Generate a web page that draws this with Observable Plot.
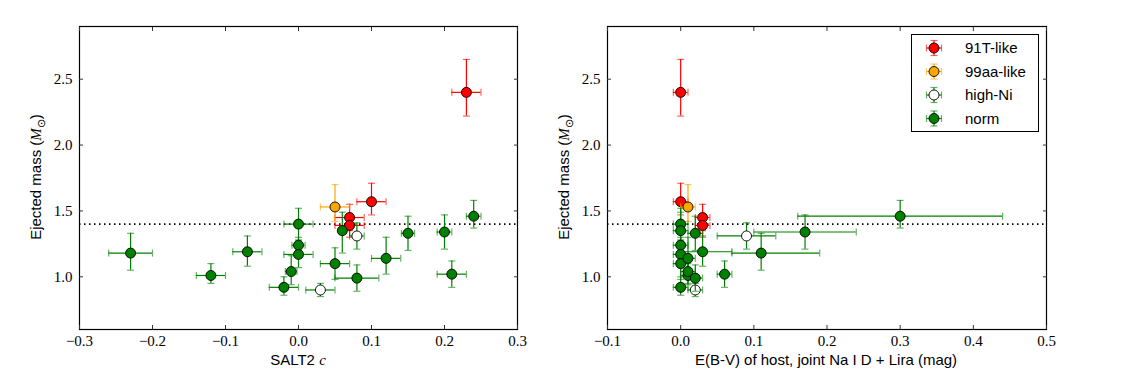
<!DOCTYPE html>
<html><head><meta charset="utf-8">
<script src="https://cdn.jsdelivr.net/npm/d3@7"></script>
<script src="https://cdn.jsdelivr.net/npm/@observablehq/plot@0.6"></script>
<style>
body{margin:0;background:#fff;}
#wrap{position:relative;width:1125px;height:375px;font-family:"Liberation Sans",Arial,sans-serif;color:#000;}
.panel{position:absolute;top:0;}
.panel svg text{font-family:"Liberation Serif","Times New Roman",serif;}
.xt{position:absolute;top:351px;font-size:15px;transform:translateX(-50%);white-space:nowrap;}
.yt{position:absolute;font-size:15px;white-space:nowrap;transform:translate(-50%,-50%) rotate(-90deg);}
.m{font-family:"Liberation Serif",serif;}
#legend{position:absolute;left:911px;top:34px;width:126px;height:96px;border:1px solid #000;background:#fff;}
</style></head>
<body>
<div id="wrap">
  <div id="left" class="panel" style="left:0"></div>
  <div id="right" class="panel" style="left:540px"></div>
  <div class="yt" style="left:37px;top:177px">Ejected mass (<span class="m"><i>M</i><sub style="font-size:11px">⊙</sub></span>)</div>
  <div class="yt" style="left:565px;top:177px">Ejected mass (<span class="m"><i>M</i><sub style="font-size:11px">⊙</sub></span>)</div>
  <div class="xt" style="left:298px">SALT2 <span class="m"><i>c</i></span></div>
  <div class="xt" style="left:826px">E(B-V) of host, joint Na I D + Lira (mag)</div>
  <div id="legend"></div>
</div>
<script>
// ---- data ----
const groupNames = ["91T-like", "99aa-like", "high-Ni", "norm"];
const groupFill  = ["#ff0000", "#ffa500", "#ffffff", "#008000"];
const groupBar   = ["#ff0000", "#ffa500", "#008000", "#008000"];

const group = ["norm","norm","norm","norm","norm","norm","norm","norm","high-Ni","norm",
               "99aa-like","norm","91T-like","91T-like","high-Ni","norm","91T-like","norm","norm","norm",
               "norm","norm","91T-like"];
const mass      = [1.18,1.01,1.19,0.92,1.04,1.40,1.24,1.17,0.90,1.10,1.53,1.35,1.45,1.39,1.31,0.99,1.57,1.14,1.33,1.34,1.02,1.46,2.40];
const massErrLo = [0.13,0.06,0.11,0.06,0.10,0.12,0.06,0.10,0.05,0.12,0.11,0.17,0.10,0.09,0.10,0.10,0.10,0.12,0.13,0.13,0.10,0.09,0.18];
const massErrHi = [0.15,0.09,0.12,0.08,0.12,0.12,0.06,0.10,0.05,0.12,0.17,0.14,0.10,0.09,0.10,0.10,0.14,0.16,0.13,0.13,0.10,0.12,0.25];
const salt2c    = [-0.23,-0.12,-0.07,-0.02,-0.01,0.00,0.00,0.00,0.03,0.05,0.05,0.06,0.07,0.07,0.08,0.08,0.10,0.12,0.15,0.20,0.21,0.24,0.23];
const salt2cErr = [0.03,0.02,0.02,0.02,0.008,0.02,0.009,0.02,0.02,0.02,0.02,0.005,0.02,0.02,0.01,0.03,0.02,0.02,0.009,0.01,0.02,0.01,0.02];
const ebv       = [0.11,0.01,0.03,0.00,0.01,0.00,0.00,0.00,0.02,0.00,0.01,0.00,0.03,0.03,0.09,0.02,0.00,0.01,0.02,0.17,0.06,0.30,0.00];
const ebvErrLo  = [0.04,0.01,0.03,0.01,0.01,0.01,0.01,0.01,0.01,0.01,0.01,0.01,0.01,0.01,0.04,0.01,0.01,0.01,0.01,0.07,0.01,0.14,0.01];
const ebvErrHi  = [0.08,0.01,0.04,0.01,0.01,0.01,0.01,0.01,0.01,0.01,0.01,0.01,0.01,0.01,0.04,0.01,0.01,0.01,0.01,0.07,0.01,0.14,0.01];
const massLimit = [1.4];

const ticksC   = [-0.3,-0.2,-0.1,0.0,0.1,0.2,0.3];
const ticksEBV = [-0.1,0.0,0.1,0.2,0.3,0.4,0.5];
const ticksM   = [1.0,1.5,2.0,2.5];

const data = group.map((g, i) => ({
  g, m: mass[i], mLo: massErrLo[i], mHi: massErrHi[i],
  c: salt2c[i], cLo: salt2cErr[i], cHi: salt2cErr[i],
  e: ebv[i], eLo: ebvErrLo[i], eHi: ebvErrHi[i]
}));

const vcap = {draw(ctx){ ctx.moveTo(0,-3.5); ctx.lineTo(0,3.5); }};
const hcap = {draw(ctx){ ctx.moveTo(-3.5,0); ctx.lineTo(3.5,0); }};
const fmt = d3.format(".1f");
const serif = "'Liberation Serif', 'Times New Roman', serif";

function panel(key, loKey, hiKey, domain, ticks, width, ml, mr) {
  const marks = [
    Plot.ruleY(massLimit, {stroke: "black", strokeWidth: 1.6, strokeDasharray: "1.5,3.5"})
  ];
  groupNames.forEach((g, gi) => {
    const d = data.filter(p => p.g === g);
    const col = groupBar[gi];
    const lo = p => p[key] - p[loKey], hi = p => p[key] + p[hiKey];
    marks.push(
      Plot.ruleY(d, {y: "m", x1: lo, x2: hi, stroke: col, strokeWidth: 1.2}),
      Plot.ruleX(d, {x: key, y1: p => p.m - p.mLo, y2: p => p.m + p.mHi, stroke: col, strokeWidth: 1.2}),
      Plot.dot(d, {x: lo, y: "m", symbol: vcap, fill: "none", stroke: col, strokeOpacity: 0.6, strokeWidth: 1.2}),
      Plot.dot(d, {x: hi, y: "m", symbol: vcap, fill: "none", stroke: col, strokeOpacity: 0.6, strokeWidth: 1.2}),
      Plot.dot(d, {x: key, y: p => p.m - p.mLo, symbol: hcap, fill: "none", stroke: col, strokeOpacity: 0.6, strokeWidth: 1.2}),
      Plot.dot(d, {x: key, y: p => p.m + p.mHi, symbol: hcap, fill: "none", stroke: col, strokeOpacity: 0.6, strokeWidth: 1.2}),
      Plot.dot(d, {x: key, y: "m", r: 5, fill: groupFill[gi], stroke: "black", strokeWidth: 0.9})
    );
  });
  const none = () => "";
  marks.push(
    Plot.frame({stroke: "black", strokeWidth: 1.2}),
    Plot.axisX({anchor: "bottom", ticks, tickSize: 0, tickPadding: 6, tickFormat: fmt, fontSize: 15, label: null}),
    Plot.axisX({anchor: "bottom", ticks, tickSize: 4, dy: -4, tickFormat: none, label: null, stroke: "#333"}),
    Plot.axisX({anchor: "top", ticks, tickSize: 4, dy: 4, tickFormat: none, label: null, stroke: "#333"}),
    Plot.axisY({anchor: "left", ticks: ticksM, tickSize: 0, tickPadding: 7, tickFormat: fmt, fontSize: 15, label: null}),
    Plot.axisY({anchor: "left", ticks: ticksM, tickSize: 4, dx: 4, tickFormat: none, label: null, stroke: "#333"}),
    Plot.axisY({anchor: "right", ticks: ticksM, tickSize: 4, dx: -4, tickFormat: none, label: null, stroke: "#333"})
  );
  return Plot.plot({
    width, height: 375,
    marginLeft: ml, marginRight: mr, marginTop: 26, marginBottom: 46,
    x: {domain}, y: {domain: [0.6, 2.9]},
    style: {background: "white", overflow: "visible", color: "black", fontFamily: serif, fontSize: "15px"},
    marks
  });
}

document.getElementById("left").append(panel("c", "cLo", "cHi", [-0.3, 0.3], ticksC, 540, 79, 23));
document.getElementById("right").append(panel("e", "eLo", "eHi", [-0.1, 0.5], ticksEBV, 585, 67, 79));

// legend
const lg = d3.select("#legend").append("svg").attr("width", 126).attr("height", 96);
groupNames.forEach((g, i) => {
  const y = 13 + i * 23.5, x = 22, col = groupBar[i];
  const row = lg.append("g");
  row.append("line").attr("x1", x - 7.5).attr("x2", x + 7.5).attr("y1", y).attr("y2", y).attr("stroke", col).attr("stroke-width", 1.2);
  row.append("line").attr("x1", x).attr("x2", x).attr("y1", y - 7.5).attr("y2", y + 7.5).attr("stroke", col).attr("stroke-width", 1.2);
  [[x - 7.5, y - 3.5, x - 7.5, y + 3.5], [x + 7.5, y - 3.5, x + 7.5, y + 3.5], [x - 3.5, y - 7.5, x + 3.5, y - 7.5], [x - 3.5, y + 7.5, x + 3.5, y + 7.5]]
    .forEach(([a, b, c, d]) => row.append("line").attr("x1", a).attr("y1", b).attr("x2", c).attr("y2", d).attr("stroke", col).attr("stroke-opacity", 0.6).attr("stroke-width", 1.2));
  row.append("circle").attr("cx", x).attr("cy", y).attr("r", 5).attr("fill", groupFill[i]).attr("stroke", "black").attr("stroke-width", 0.9);
  row.append("text").attr("x", 53).attr("y", y).attr("dy", "0.35em").attr("font-size", 15).attr("font-family", "'Liberation Sans', Arial, sans-serif").text(g);
});
</script>
</body></html>
